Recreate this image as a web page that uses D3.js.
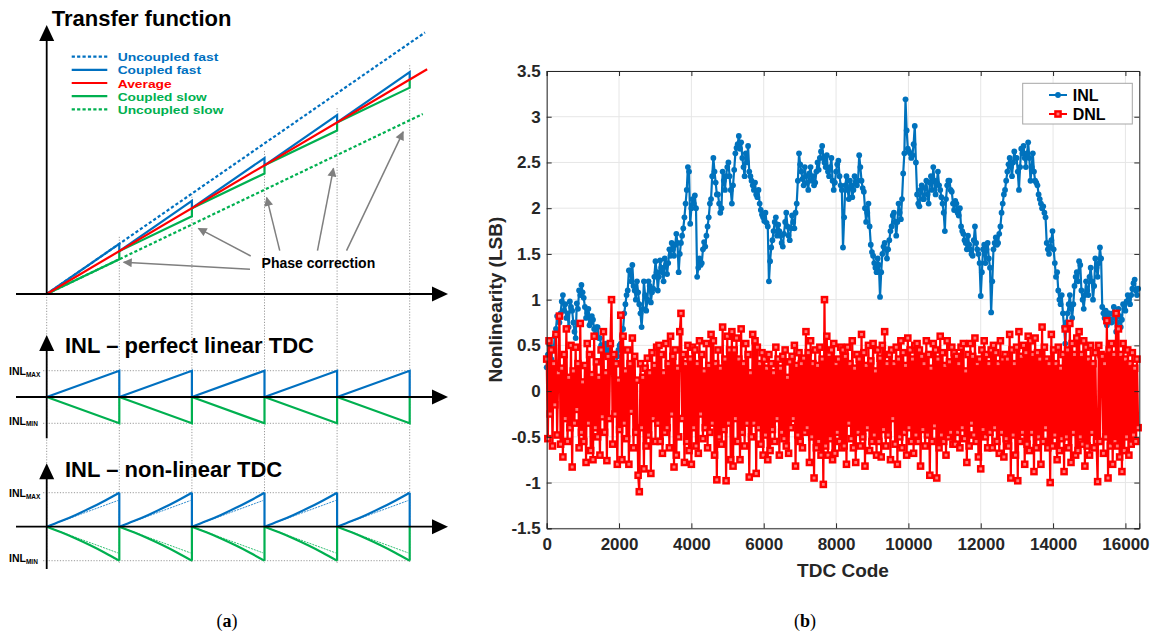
<!DOCTYPE html>
<html>
<head>
<meta charset="utf-8">
<script src="https://cdn.jsdelivr.net/npm/d3@7"></script>
<style>
  html, body { margin: 0; padding: 0; background: #fff; }
  svg { display: block; }
</style>
</head>
<body>
<svg id="fig" width="1158" height="639"></svg>
<script>
// ---------------- Panel (a): schematic transfer function and INL ----------------
const tfLabels   = ["Uncoupled fast", "Coupled fast", "Average", "Coupled slow", "Uncoupled slow"];
const tfLabelWidths = [100.7, 83.3, 54, 89, 105.7];
const tfKinds    = ["fast", "fast", "avg", "slow", "slow"];
const tfDashed   = [true, false, false, false, true];
const tfSlopes   = [1.17, 1.0, 0.81];          // fast, average, slow (per correction period)
const tfLineEnds = [5.21, 5.24, 5.18];          // x extent of the free-running lines
const corrections = [0, 1, 2, 3, 4];            // phase-correction periods
const phaseTips  = [[1.06, 0.74], [2.09, 1.53], [3.03, 2.245], [3.95, 2.93], [4.91, 3.78]];
const phaseTails = [[2.80, 0.576], [2.81, 0.886], [3.21, 1.01], [3.73, 1.01], [4.13, 1.01]];
const bowT = [0, 0.2, 0.4, 0.6, 0.8, 1.0];      // non-linear INL bow within one period
const bowV = [0, 0.165, 0.347, 0.547, 0.765, 1.0];
const bowLinearEnd = [0.98, 0.77];

// ---------------- Panel (b): measured INL / DNL ----------------
const inlStep = 32;
const inlValues = [
  0.26,0.40,0.52,0.30,0.35,0.48,0.45,0.60,0.68,0.82,0.82,0.75,0.85,0.98,1.05,0.88,0.95,0.80,0.85,0.70,0.98,0.92,0.88,0.75,0.65,0.58,0.96,0.90,1.10,1.05,1.16,1.08,
  1.02,0.92,0.80,0.85,0.90,0.72,0.75,0.82,0.78,0.68,0.62,0.70,0.70,0.58,0.58,0.50,0.50,0.42,0.45,0.52,0.38,0.45,0.42,0.35,0.33,0.40,0.40,0.28,0.30,0.38,0.45,0.50,
  0.52,0.60,0.68,0.85,0.95,1.05,1.10,1.32,1.32,1.20,1.38,1.15,1.10,1.00,1.20,1.08,0.95,0.85,0.70,0.90,1.20,1.05,0.88,1.00,1.20,1.15,0.97,1.08,1.12,1.25,1.42,1.30,
  1.10,1.25,1.43,1.35,1.30,1.20,1.45,1.38,1.28,1.40,1.55,1.48,1.62,1.55,1.48,1.60,1.72,1.62,1.30,1.50,1.62,1.70,1.78,1.90,2.05,2.20,2.45,2.40,1.83,2.00,2.10,2.05,
  2.14,2.00,1.25,1.35,1.45,1.38,1.40,1.55,1.63,1.58,1.70,1.80,1.90,2.05,2.10,2.35,2.55,2.40,2.28,2.15,2.15,2.05,1.95,2.00,2.40,2.30,2.20,2.35,2.45,2.50,2.35,2.20,
  2.05,2.25,2.42,2.60,2.66,2.70,2.79,2.65,2.72,2.55,2.45,2.35,2.60,2.50,2.68,2.40,2.35,2.30,2.25,2.20,2.28,2.15,2.12,2.20,2.05,1.98,1.93,1.90,1.86,1.95,1.84,1.80,
  1.20,1.42,1.57,1.65,1.75,1.85,1.90,1.70,1.82,1.75,1.70,1.62,1.58,1.72,1.85,1.95,1.80,1.70,1.65,1.78,1.92,1.85,1.78,1.95,2.05,2.30,2.60,2.48,2.40,2.32,2.25,2.45,
  2.35,2.28,2.20,2.38,2.45,2.30,2.35,2.25,2.28,2.40,2.50,2.42,2.55,2.62,2.68,2.55,2.50,2.45,2.58,2.40,2.35,2.45,2.55,2.30,2.20,2.28,2.40,2.48,2.52,2.35,2.25,2.20,
  1.57,1.90,2.25,2.35,2.20,2.10,2.30,2.25,2.12,2.20,2.35,2.28,2.25,2.30,2.58,2.45,2.30,2.22,2.18,2.00,1.85,1.95,2.05,1.80,1.60,1.52,1.48,1.40,1.35,1.30,1.45,1.38,
  1.03,1.30,1.50,1.58,1.62,1.55,1.45,1.55,1.65,1.75,1.80,1.92,1.95,1.85,1.70,1.85,2.05,1.95,1.88,2.10,2.38,2.60,3.19,2.85,2.65,2.62,2.60,2.55,2.58,2.70,2.90,2.50,
  2.15,2.05,2.02,2.20,2.25,2.10,2.10,2.22,2.30,2.15,2.05,2.28,2.35,2.20,2.45,2.30,2.15,2.28,2.40,2.25,2.20,2.12,2.05,1.95,1.75,2.10,2.25,2.30,2.30,2.20,2.18,2.05,
  1.98,2.08,2.05,1.95,1.92,2.00,1.80,1.75,1.72,1.65,1.62,1.55,1.70,1.60,1.55,1.50,1.48,1.65,1.80,1.62,1.55,1.50,1.40,1.04,1.30,1.55,1.60,1.40,1.55,1.62,1.45,1.35,
  0.86,1.20,1.55,1.62,1.68,1.60,1.62,1.72,1.80,1.95,2.05,2.15,2.20,2.30,2.40,2.48,2.55,2.45,2.35,2.50,2.62,2.55,2.55,2.40,2.20,2.45,2.65,2.60,2.68,2.55,2.45,2.60,
  2.72,2.55,2.30,2.45,2.60,2.40,2.30,2.28,2.25,2.15,2.10,2.05,2.00,2.02,1.95,1.90,1.62,1.55,1.50,1.58,1.65,1.75,1.55,1.40,1.25,1.30,1.10,1.00,0.95,1.05,0.85,0.70,
  0.52,0.75,0.85,0.95,1.05,0.90,0.80,0.95,1.15,1.25,1.30,1.20,1.42,1.38,1.10,1.00,0.90,1.05,1.20,1.10,1.05,1.25,1.35,1.20,1.00,1.15,1.45,1.35,1.25,1.40,1.57,1.45,
  0.92,0.85,0.80,0.88,0.72,0.85,0.85,0.78,0.75,0.85,0.92,0.80,0.65,0.75,0.90,0.82,0.70,0.78,0.95,0.90,0.88,0.98,1.05,1.00,0.95,1.05,1.12,1.18,1.22,1.10,1.05,1.12
];
const dnlStep = 32;
const dnlValues = [
  0.35,-0.52,0.55,-0.25,0.45,-0.60,0.30,-0.15,0.62,-0.48,0.20,0.82,-0.58,0.25,-0.72,0.40,-0.30,0.68,-0.55,0.15,-0.40,0.50,-0.83,0.22,-0.35,0.48,-0.20,0.30,-0.62,0.74,-0.45,0.10,
  -0.55,0.28,-0.78,0.52,-0.35,0.40,-0.65,0.18,-0.75,0.60,-0.40,0.32,-0.50,0.15,-0.70,0.45,-0.28,0.65,-0.45,0.20,-0.76,0.38,-0.30,0.52,1.00,-0.58,0.40,-0.25,0.30,-0.80,0.12,-0.42,
  0.83,-0.75,0.60,-0.35,0.22,-0.52,0.45,-0.80,0.30,-0.22,0.58,-0.62,0.38,-0.45,0.12,-0.92,-1.10,0.30,-0.40,0.15,-0.85,0.25,-0.60,0.36,-0.48,0.20,-0.90,0.42,-0.30,0.28,-0.55,0.48,
  -0.35,0.50,-0.55,0.40,-0.68,0.20,-0.45,0.52,-0.40,0.30,-0.62,0.60,-0.25,0.38,-0.83,0.45,-0.70,0.25,-0.50,0.65,0.85,-0.30,0.40,-0.78,0.30,-0.55,0.50,-0.65,0.35,-0.80,0.48,-0.40,
  0.45,-0.60,0.30,-0.68,0.55,-0.25,0.40,-0.52,0.22,-0.40,0.52,-0.62,0.28,-0.45,0.62,-0.35,0.55,-0.70,0.30,-0.97,0.45,-0.50,0.25,-0.58,0.70,-0.42,0.35,-0.98,0.60,-0.35,0.45,-0.75,
  0.65,-0.82,0.45,-0.30,0.58,-0.55,0.35,-0.75,0.68,-0.45,0.30,-0.60,0.52,-0.35,0.40,-0.94,0.20,-0.50,0.62,-0.35,0.55,-0.90,0.48,-0.40,0.30,-0.58,0.42,-0.70,0.35,-0.48,0.25,-0.75,
  0.40,-0.65,0.30,-0.42,0.20,-0.55,0.48,-0.30,0.35,-0.70,0.25,-0.45,0.38,-0.52,0.45,-0.60,0.15,-0.68,0.32,-0.40,0.38,-0.30,0.50,-0.82,0.28,-0.48,0.42,-0.55,0.30,-0.62,0.36,-0.45,
  0.65,-0.40,0.42,-0.78,0.55,-0.50,0.30,-0.95,0.45,-0.62,0.28,-0.55,0.48,-0.70,0.35,-1.02,1.00,-0.60,0.60,-0.70,0.40,-0.52,0.45,-0.75,0.52,-0.68,0.30,-0.45,0.35,-0.55,0.48,-0.62,
  0.45,-0.60,0.38,-0.80,0.48,-0.35,0.30,-0.52,0.55,-0.62,0.25,-0.78,0.40,-0.45,0.35,-0.60,0.62,-0.50,0.42,-0.82,0.28,-0.40,0.50,-0.65,0.33,-0.55,0.52,-0.48,0.22,-0.70,0.45,-0.55,
  0.36,-0.72,0.50,-0.42,0.65,-0.60,0.30,-0.48,0.40,-0.75,0.45,-0.30,0.30,-0.58,0.48,-0.80,0.35,-0.50,0.55,-0.62,0.42,-0.45,0.28,-0.70,0.58,-0.40,0.45,-0.55,0.35,-0.68,0.50,-0.48,
  0.52,-0.55,0.45,-0.82,0.38,-0.42,0.30,-0.60,0.55,-0.48,0.40,-0.92,0.25,-0.55,0.52,-0.38,0.45,-0.95,0.35,-0.62,0.60,-0.48,0.42,-0.55,0.28,-0.70,0.55,-0.50,0.32,-0.45,0.48,-0.58,
  0.42,-0.58,0.38,-0.45,0.30,-0.62,0.48,-0.40,0.52,-0.52,0.22,-0.78,0.40,-0.60,0.52,-0.35,0.38,-0.48,0.58,-0.55,0.30,-0.72,0.35,-0.85,0.45,-0.42,0.55,-0.50,0.40,-0.62,0.30,-0.45,
  0.45,-0.62,0.50,-0.40,0.42,-0.55,0.30,-0.68,0.55,-0.45,0.35,-0.72,0.40,-0.52,0.35,-0.60,0.62,-0.95,0.45,-0.48,0.30,-0.70,0.48,-0.98,0.65,-0.55,0.38,-0.45,0.50,-0.80,0.42,-0.58,
  0.60,-0.65,0.55,-0.45,0.40,-0.88,0.58,-0.62,0.42,-0.50,0.35,-0.80,0.70,-0.55,0.48,-0.40,0.35,-0.62,0.30,-1.00,0.62,-0.60,0.45,-0.48,0.30,-0.75,0.48,-0.65,0.25,-0.52,0.40,-0.88,
  0.68,-0.50,0.45,-0.62,0.74,-0.78,0.52,-0.45,0.40,-0.70,0.58,-0.65,0.65,-0.50,0.40,-0.58,0.55,-0.82,0.48,-0.60,0.35,-0.70,0.50,-0.45,0.30,-0.62,0.42,-0.55,-0.99,0.50,-0.55,0.40,
  0.38,-0.68,0.30,-0.50,0.77,-0.95,0.45,-0.60,0.52,-0.80,0.40,-0.55,0.85,-0.60,0.68,-0.72,0.40,-0.88,0.52,-0.65,0.35,-0.50,0.45,-0.70,0.30,-0.58,0.42,-0.48,0.25,-0.55,0.35,-0.40
];
const xTicks = [0, 2000, 4000, 6000, 8000, 10000, 12000, 14000, 16000];
const yTicks = [-1.5, -1, -0.5, 0, 0.5, 1, 1.5, 2, 2.5, 3, 3.5];
const seriesNames = ["INL", "DNL"];

// ---------------- styling ----------------
const FONT = "'Liberation Sans', Arial, Helvetica, sans-serif";
const BLUE = "#0070C0", GREEN = "#00B050", RED = "#FF0000";
const colorOf = { fast: BLUE, avg: RED, slow: GREEN };
const slopeOf = { fast: tfSlopes[0], avg: tfSlopes[1], slow: tfSlopes[2] };

const svg = d3.select("#fig");

// ======================= Panel (a) =======================
const ga = svg.append("g").attr("class", "panel-a");
const xA = d3.scaleLinear().domain([0, 1]).range([46.7, 119.3]);
const yTF = d3.scaleLinear().domain([0, 1]).range([294, 251.1]);
const yLin = d3.scaleLinear().domain([-1, 1]).range([423.3, 370.7]);
const yNon = d3.scaleLinear().domain([-1, 1]).range([560.7, 492.7]);
const line = d3.line().x(d => xA(d[0]));

function arrowHead(g, tipX, tipY, dir) {
  const L = 16, W = 7.5;
  let pts;
  if (dir === "right") pts = [[tipX, tipY], [tipX - L, tipY - W], [tipX - L, tipY + W]];
  else pts = [[tipX, tipY], [tipX - W, tipY + L], [tipX + W, tipY + L]];
  g.append("path").attr("d", "M" + pts.join("L") + "Z").attr("fill", "#000");
}

// grey dotted guides (drawn first, behind everything)
const guides = ga.append("g").attr("stroke", "#9a9a9a").attr("stroke-width", 1)
  .attr("stroke-dasharray", "1.2,1.6").attr("fill", "none");
guides.append("line").attr("x1", xA(0)).attr("x2", xA(0)).attr("y1", yTF(0)).attr("y2", 563);
corrections.forEach(k => {
  const top = yTF(k + slopeOf.fast) - 7;
  guides.append("line").attr("x1", xA(k + 1)).attr("x2", xA(k + 1)).attr("y1", top).attr("y2", 563);
});
[yLin, yNon].forEach(ys => {
  [1, -1].forEach(v => {
    guides.append("line").attr("x1", xA(-0.05)).attr("x2", xA(5)).attr("y1", ys(v)).attr("y2", ys(v));
  });
});

// transfer function: free-running and coupled lines
const tfG = ga.append("g").attr("fill", "none").attr("stroke-width", 2.2);
["fast", "avg", "slow"].forEach((kind, i) => {
  if (kind === "avg") return;
  tfG.append("path")
    .attr("d", line.y(d => yTF(d[1]))([[0, 0], [tfLineEnds[i], tfLineEnds[i] * slopeOf[kind]]]))
    .attr("stroke", colorOf[kind]).attr("stroke-dasharray", "3.2,2.2");
});
["slow", "fast"].forEach(kind => {
  const pts = [];
  corrections.forEach(k => {
    pts.push([k, k], [k + 1, k + slopeOf[kind]], [k + 1, k + 1]);
  });
  tfG.append("path").attr("d", line.y(d => yTF(d[1]))(pts)).attr("stroke", colorOf[kind])
    .attr("stroke-linejoin", "miter");
});
tfG.append("path")
  .attr("d", line.y(d => yTF(d[1]))([[0, 0], [tfLineEnds[1], tfLineEnds[1] * slopeOf.avg]]))
  .attr("stroke", RED);

// legend of the transfer function
const legA = ga.append("g");
tfLabels.forEach((lab, i) => {
  const yy = 56.6 + i * 13.2;
  legA.append("line").attr("x1", 71.7).attr("x2", 107.3).attr("y1", yy).attr("y2", yy)
    .attr("stroke", colorOf[tfKinds[i]]).attr("stroke-width", 2.2)
    .attr("stroke-dasharray", tfDashed[i] ? "3.2,2.2" : null);
  legA.append("text").attr("x", 117.7).attr("y", yy + 4.6).text(lab)
    .attr("font-family", FONT).attr("font-weight", "bold").attr("font-size", 11.6)
    .attr("textLength", tfLabelWidths[i]).attr("lengthAdjust", "spacingAndGlyphs")
    .attr("fill", colorOf[tfKinds[i]]);
});

// phase correction annotations
svg.append("defs").append("marker").attr("id", "greyHead")
  .attr("viewBox", "0 0 10 10").attr("refX", 9).attr("refY", 5)
  .attr("markerWidth", 10).attr("markerHeight", 9).attr("orient", "auto")
  .attr("markerUnits", "userSpaceOnUse")
  .append("path").attr("d", "M0,0L10,5L0,10Z").attr("fill", "#7f7f7f");
phaseTips.forEach((tip, i) => {
  const tail = phaseTails[i];
  ga.append("line").attr("x1", xA(tail[0])).attr("y1", yTF(tail[1]))
    .attr("x2", xA(tip[0])).attr("y2", yTF(tip[1]))
    .attr("stroke", "#7f7f7f").attr("stroke-width", 1.5).attr("marker-end", "url(#greyHead)");
});
ga.append("text").attr("x", xA(2.96)).attr("y", yTF(0.607)).text("Phase correction")
  .attr("font-family", FONT).attr("font-weight", "bold").attr("font-size", 14).attr("fill", "#000");

// transfer function axes
const axA = ga.append("g").attr("stroke", "#000").attr("stroke-width", 1.8);
axA.append("line").attr("x1", 16).attr("x2", 440).attr("y1", yTF(0)).attr("y2", yTF(0));
axA.append("line").attr("x1", xA(0)).attr("x2", xA(0)).attr("y1", yTF(0)).attr("y2", 33);
arrowHead(ga, 448, yTF(0), "right");
arrowHead(ga, xA(0), 25, "up");
ga.append("text").attr("x", 51.7).attr("y", 26).text("Transfer function")
  .attr("font-family", FONT).attr("font-weight", "bold").attr("font-size", 22).attr("fill", "#000");

// INL panels
function inlPanel(ys, title, titleY, tipY, bottomY, nonLinear) {
  const g = ga.append("g");
  const ln = d3.line().x(d => xA(d[0])).y(d => ys(d[1]));
  const crv = d3.line().x(d => xA(d[0])).y(d => ys(d[1])).curve(d3.curveMonotoneX);
  [[1, BLUE], [-1, GREEN]].forEach(([sgn, col]) => {
    corrections.forEach(k => {
      if (nonLinear) {
        g.append("path").attr("d", ln([[k, 0], [k + bowLinearEnd[0], sgn * bowLinearEnd[1]]]))
          .attr("fill", "none").attr("stroke", col).attr("stroke-width", 0.8).attr("stroke-dasharray", "2,1");
        g.append("path").attr("d", crv(bowT.map((t, j) => [k + t, sgn * bowV[j]])))
          .attr("fill", "none").attr("stroke", col).attr("stroke-width", 2.2);
        g.append("path").attr("d", ln([[k + 1, sgn], [k + 1, 0]]))
          .attr("fill", "none").attr("stroke", col).attr("stroke-width", 2.2);
      } else {
        g.append("path").attr("d", ln([[k, 0], [k + 1, sgn], [k + 1, 0]]))
          .attr("fill", "none").attr("stroke", col).attr("stroke-width", 2.2);
      }
    });
  });
  g.append("line").attr("x1", 16).attr("x2", 440).attr("y1", ys(0)).attr("y2", ys(0))
    .attr("stroke", "#000").attr("stroke-width", 1.8);
  g.append("line").attr("x1", xA(0)).attr("x2", xA(0)).attr("y1", bottomY).attr("y2", tipY + 8)
    .attr("stroke", "#000").attr("stroke-width", 1.8);
  arrowHead(g, 448, ys(0), "right");
  arrowHead(g, xA(0), tipY, "up");
  g.append("text").attr("x", 65).attr("y", titleY).text(title)
    .attr("font-family", FONT).attr("font-weight", "bold").attr("font-size", 22).attr("fill", "#000");
  [["MAX", ys(1) + 4.5], ["MIN", ys(-1) + 1.5]].forEach(([sub, yy]) => {
    const t = g.append("text").attr("x", 9).attr("y", yy)
      .attr("font-family", FONT).attr("font-weight", "bold").attr("font-size", 10.5).attr("fill", "#000");
    t.append("tspan").text("INL");
    t.append("tspan").attr("font-size", 6.5).attr("dy", 1.5).text(sub);
  });
}
inlPanel(yLin, "INL \u2013 perfect linear TDC", 353.3, 335, 438.3, false);
inlPanel(yNon, "INL \u2013 non-linear TDC", 476.7, 463.3, 569, true);

// ======================= Panel (b) =======================
const gb = svg.append("g").attr("class", "panel-b");
const bx = d3.scaleLinear().domain([0, 16384]).range([546.7, 1139.3]);
const by = d3.scaleLinear().domain([-1.5, 3.5]).range([528.3, 71]);
const AXC = "#262626";

// grid
const grid = gb.append("g").attr("stroke", "#e6e6e6").attr("stroke-width", 1);
xTicks.forEach(t => grid.append("line").attr("x1", bx(t)).attr("x2", bx(t)).attr("y1", by(-1.5)).attr("y2", by(3.5)));
yTicks.forEach(t => grid.append("line").attr("x1", bx(0)).attr("x2", bx(16384)).attr("y1", by(t)).attr("y2", by(t)));

// series
const inlData = inlValues.map((v, i) => [i * inlStep, v]);
const dnlData = dnlValues.map((v, i) => [i * dnlStep, v]);
const bLine = d3.line().x(d => bx(d[0])).y(d => by(d[1]));
const plot = gb.append("g");

plot.append("path").attr("d", bLine(inlData)).attr("fill", "none")
  .attr("stroke", "#0072BD").attr("stroke-width", 2.2).attr("stroke-linejoin", "round");
plot.append("g").selectAll("circle").data(inlData).join("circle")
  .attr("cx", d => bx(d[0])).attr("cy", d => by(d[1])).attr("r", 2.9).attr("fill", "#0072BD");

plot.append("path").attr("d", bLine(dnlData)).attr("fill", "none")
  .attr("stroke", "#FF0000").attr("stroke-width", 2.2).attr("stroke-linejoin", "round");
plot.append("g").selectAll("rect").data(dnlData).join("rect")
  .attr("x", d => bx(d[0]) - 2.6).attr("y", d => by(d[1]) - 2.6).attr("width", 5.2).attr("height", 5.2)
  .attr("fill", "#ff7a7a").attr("stroke", "#FF0000").attr("stroke-width", 2.4);

// axes (ticks pointing inward, MATLAB style box)
const axB = d3.axisBottom(bx).tickValues(xTicks).tickSize(-5).tickPadding(10).tickFormat(d => String(d));
const axL = d3.axisLeft(by).tickValues(yTicks).tickSize(-5).tickPadding(6).tickFormat(d => String(d));
const axT = d3.axisTop(bx).tickValues(xTicks).tickSize(-5).tickFormat("");
const axR = d3.axisRight(by).tickValues(yTicks).tickSize(-5).tickFormat("");
[[axB, `translate(0,${by(-1.5)})`], [axL, `translate(${bx(0)},0)`],
 [axT, `translate(0,${by(3.5)})`], [axR, `translate(${bx(16384)},0)`]].forEach(([ax, tr]) => {
  const g = gb.append("g").attr("transform", tr).call(ax);
  g.select(".domain").attr("stroke", AXC).attr("stroke-width", 1);
  g.selectAll(".tick line").attr("stroke", AXC).attr("stroke-width", 1);
  g.selectAll(".tick text").attr("fill", AXC).attr("font-family", FONT)
    .attr("font-weight", "bold").attr("font-size", 17);
});

gb.append("text").attr("x", (bx(0) + bx(16384)) / 2).attr("y", 577).attr("text-anchor", "middle")
  .text("TDC Code").attr("font-family", FONT).attr("font-weight", "bold").attr("font-size", 19).attr("fill", AXC);
gb.append("text").attr("transform", `translate(502,${(by(-1.5) + by(3.5)) / 2}) rotate(-90)`)
  .attr("text-anchor", "middle").text("Nonlinearity (LSB)")
  .attr("font-family", FONT).attr("font-weight", "bold").attr("font-size", 19).attr("fill", AXC);

// legend
const lg = gb.append("g");
lg.append("rect").attr("x", 1022.7).attr("y", 83.3).attr("width", 109.6).attr("height", 40.7)
  .attr("fill", "#fff").attr("stroke", "#a6a6a6").attr("stroke-width", 1);
seriesNames.forEach((name, i) => {
  const yy = 95 + i * 19;
  const col = i === 0 ? "#0072BD" : "#FF0000";
  lg.append("line").attr("x1", 1049).attr("x2", 1067).attr("y1", yy).attr("y2", yy)
    .attr("stroke", col).attr("stroke-width", 2);
  if (i === 0) lg.append("circle").attr("cx", 1058).attr("cy", yy).attr("r", 2.9).attr("fill", col);
  else lg.append("rect").attr("x", 1055.4).attr("y", yy - 2.6).attr("width", 5.2).attr("height", 5.2)
    .attr("fill", "#ff7a7a").attr("stroke", col).attr("stroke-width", 2.4);
  lg.append("text").attr("x", 1072.7).attr("y", yy + 6).text(name)
    .attr("font-family", FONT).attr("font-weight", "bold").attr("font-size", 16).attr("fill", "#000");
});

// ======================= captions =======================
[["a", 227], ["b", 805]].forEach(([letter, cx]) => {
  const t = svg.append("text").attr("x", cx).attr("y", 627).attr("text-anchor", "middle")
    .attr("font-family", "'Liberation Serif', 'Times New Roman', serif").attr("font-size", 18).attr("fill", "#000");
  t.append("tspan").text("(");
  t.append("tspan").attr("font-weight", "bold").text(letter);
  t.append("tspan").text(")");
});
</script>
</body>
</html>
